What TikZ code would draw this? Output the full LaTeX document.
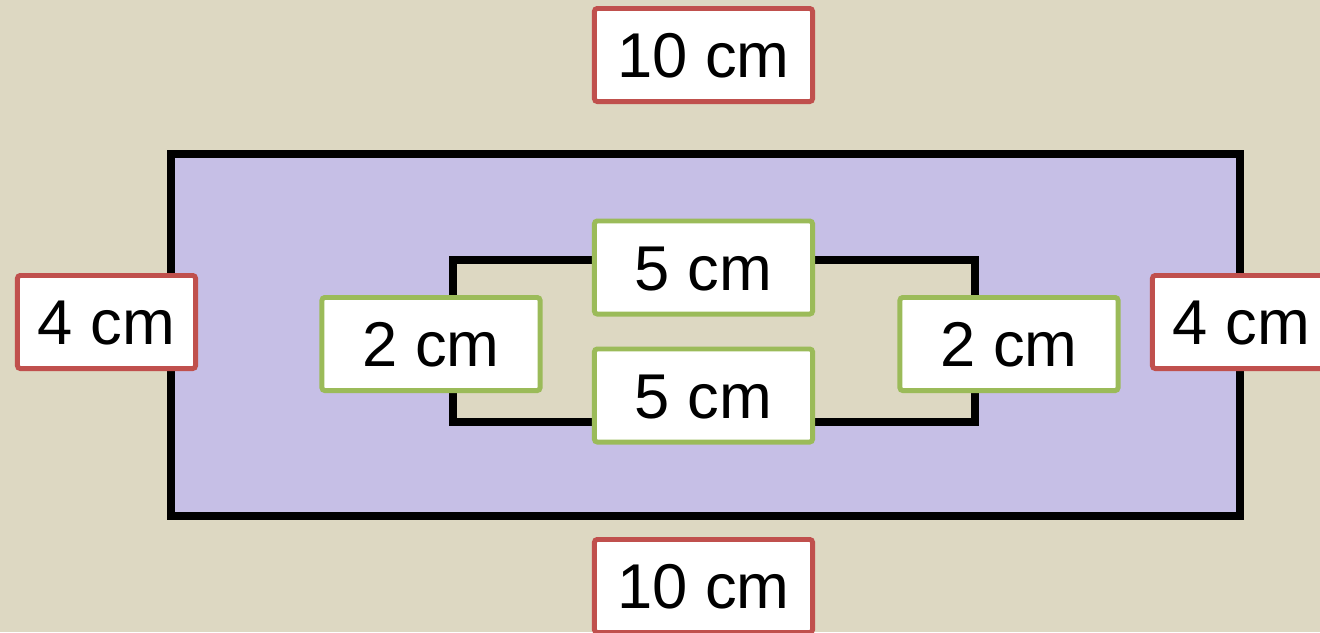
\documentclass[tikz,border=0pt]{standalone}
\usepackage{fontspec}
\setmainfont{Liberation Sans}
\definecolor{bgbeige}{RGB}{221,216,194}
\definecolor{outerfill}{RGB}{198,191,230}
\definecolor{redline}{RGB}{192,80,77}
\definecolor{greenline}{RGB}{155,187,89}
\tikzset{
  lbl/.style={draw, fill=white, line width=1.4pt, rounded corners=0.8pt,
    inner sep=0pt, minimum width=2.18cm, minimum height=0.93cm,
    text height=12.9pt, text depth=0pt,
    font=\fontsize{18}{20}\selectfont},
  redlbl/.style={lbl, draw=redline},
  greenlbl/.style={lbl, draw=greenline},
  frame/.style={draw=black, line width=2pt}
}
\begin{document}
\begin{tikzpicture}[x=0.01cm,y=-0.01cm]
\useasboundingbox[fill=bgbeige] (0,0) rectangle (1320,632);
\draw[frame, fill=outerfill] (171,154) rectangle (1240,516);
\draw[frame, fill=bgbeige] (453,260) rectangle (975,422);
\node[redlbl] (top) at (703.5,55) {10 cm};
\node[redlbl] (bottom) at (703.5,586) {10 cm};
\node[redlbl, minimum width=1.78cm] (left) at (106.5,322) {4 cm};
\node[redlbl, minimum width=1.78cm] (right) at (1241.5,322) {4 cm};
\node[greenlbl] (intop) at (703.5,267.5) {5 cm};
\node[greenlbl] (inbottom) at (703.5,395.5) {5 cm};
\node[greenlbl] (inleft) at (431,344) {2 cm};
\node[greenlbl] (inright) at (1009,344) {2 cm};
\end{tikzpicture}
\end{document}
